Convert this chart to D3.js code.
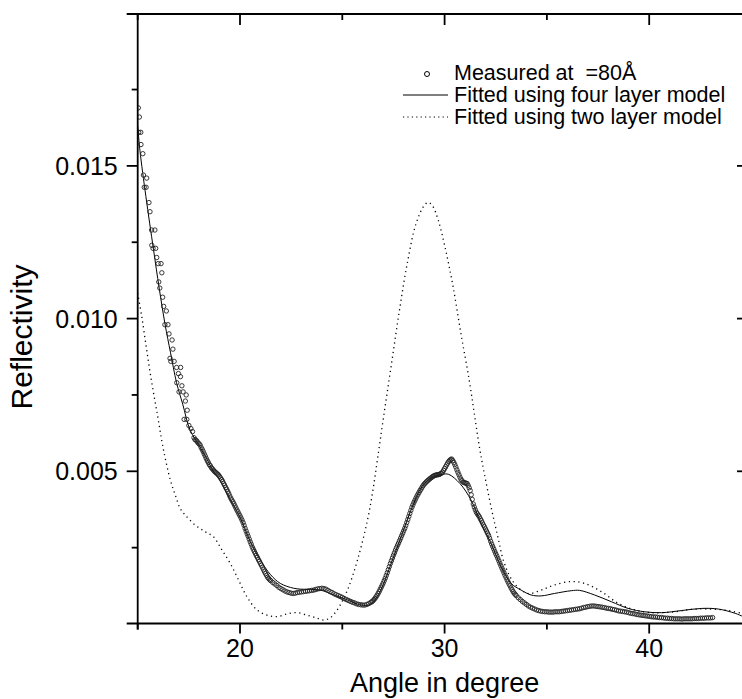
<!DOCTYPE html>
<html><head><meta charset="utf-8">
<script src="https://cdn.jsdelivr.net/npm/d3@7"></script>
<style>body{margin:0;background:#fff}svg{display:block}text{font-family:"Liberation Sans",Arial,sans-serif;fill:#000}</style>
</head><body><svg id="c" width="742" height="699"></svg>
<script>
// ---- data ----
const xMajorTicks = [20, 30, 40];
const xMinorTicks = [15, 25, 35, 45];
const yMajorTicks = [0.005, 0.010, 0.015];
const yMinorTicks = [0.0025, 0.0075, 0.0125, 0.0175];
const legendLabels = ["Measured at  =80\u00C5", "Fitted using four layer model", "Fitted using two layer model"];
const xTitle = "Angle in degree";
const yTitle = "Reflectivity";

// measured reflectivity [angle, R]
const measured = [
[15.03,0.0169],[15.08,0.0166],[15.05,0.0161],[15.15,0.0161],[15.16,0.0157],[15.25,0.0154],[15.28,0.0147],[15.44,0.0146],[15.32,0.0143],[15.41,0.0143],
[15.55,0.0138],[15.6,0.0135],[15.68,0.0129],[15.84,0.0129],[15.69,0.0124],[15.75,0.0123],[15.88,0.0123],[15.93,0.0120],[16.0,0.0118],[16.14,0.0118],
[16.18,0.0115],[16.03,0.0112],[16.08,0.0110],[16.22,0.0107],[16.27,0.0104],[16.4,0.01025],[16.33,0.0098],[16.48,0.0098],[16.53,0.0095],[16.68,0.0093],
[16.72,0.0090],[16.58,0.0087],[16.62,0.0086],[16.78,0.0086],[16.9,0.0084],[17.1,0.0084],[16.99,0.0082],[17.09,0.0081],[16.91,0.0079],[17.02,0.0076],
[17.22,0.0076],[17.16,0.0078],[17.37,0.0075],[17.33,0.0073],[17.42,0.0070],[17.27,0.0067],[17.4,0.0067],[17.5,0.0065],[17.6,0.0064],[17.68,0.0063],
[17.75,0.00610],[17.80,0.00604],[17.85,0.00602],[17.90,0.00598],[17.95,0.00593],[18.00,0.00590],[18.05,0.00586],[18.10,0.00578],[18.15,0.00572],[18.20,0.00565],
[18.25,0.00557],[18.30,0.00550],[18.35,0.00542],[18.40,0.00535],[18.45,0.00529],[18.50,0.00522],[18.55,0.00518],[18.60,0.00512],[18.65,0.00508],[18.70,0.00504],
[18.75,0.00500],[18.80,0.00497],[18.85,0.00494],[18.90,0.00491],[18.95,0.00488],[19.00,0.00483],[19.05,0.00478],[19.10,0.00473],[19.15,0.00467],[19.20,0.00460],
[19.25,0.00454],[19.30,0.00447],[19.35,0.00441],[19.40,0.00434],[19.45,0.00427],[19.50,0.00419],[19.55,0.00412],[19.60,0.00406],[19.65,0.00400],[19.70,0.00394],
[19.75,0.00387],[19.80,0.00380],[19.85,0.00373],[19.90,0.00367],[19.95,0.00360],[20.00,0.00354],[20.05,0.00347],[20.10,0.00340],[20.15,0.00332],[20.20,0.00323],
[20.25,0.00313],[20.30,0.00304],[20.35,0.00295],[20.40,0.00287],[20.45,0.00278],[20.50,0.00269],[20.55,0.00261],[20.60,0.00252],[20.65,0.00245],[20.70,0.00238],
[20.75,0.00231],[20.80,0.00224],[20.85,0.00218],[20.90,0.00211],[20.95,0.00205],[21.00,0.00198],[21.05,0.00192],[21.10,0.00185],[21.15,0.00178],[21.20,0.00171],
[21.25,0.00165],[21.30,0.00159],[21.35,0.00153],[21.40,0.00149],[21.45,0.00145],
[21.50,0.00142],[21.60,0.00136],[21.70,0.00131],[21.80,0.00126],[21.90,0.0012],[22.00,0.00116],[22.10,0.00112],[22.20,0.00108],[22.30,0.00105],[22.40,0.00103],
[22.50,0.00101],[22.60,0.001],[22.70,0.00101],[22.80,0.00103],[22.90,0.00104],[23.00,0.00105],[23.10,0.00106],[23.20,0.00107],[23.30,0.00108],[23.40,0.00109],
[23.50,0.0011],[23.60,0.00111],[23.70,0.00113],[23.80,0.00115],[23.90,0.00116],[24.00,0.00117],[24.10,0.00116],[24.20,0.00114],[24.30,0.0011],[24.40,0.00106],
[24.50,0.00103],[24.60,0.00099],[24.70,0.00096],[24.80,0.00093],[24.90,0.0009],[25.00,0.00087],[25.10,0.00083],[25.20,0.0008],[25.30,0.00077],[25.40,0.00074],
[25.50,0.00071],[25.60,0.00069],[25.70,0.00066],[25.80,0.00064],[25.90,0.00063],[26.00,0.00062],[26.10,0.00062],[26.20,0.00064],[26.30,0.00067],[26.40,0.00071],
[26.45,0.00073],[26.50,0.00076],[26.55,0.0008],[26.60,0.00084],[26.65,0.00089],[26.70,0.00094],[26.75,0.001],[26.80,0.00106],[26.85,0.00113],[26.90,0.0012],
[26.95,0.00127],[27.00,0.00134],[27.05,0.00142],[27.10,0.0015],[27.15,0.00159],[27.20,0.00168],[27.25,0.00178],[27.30,0.00188],[27.35,0.00198],[27.40,0.00207],
[27.45,0.00216],[27.50,0.00225],[27.55,0.00233],[27.60,0.00242],[27.65,0.0025],[27.70,0.00258],[27.75,0.00265],[27.80,0.00273],[27.85,0.00281],[27.90,0.00289],
[27.95,0.00297],[28.00,0.00305],[28.05,0.00313],[28.10,0.00322],[28.15,0.00332],[28.20,0.00342],[28.25,0.00352],[28.30,0.00362],[28.35,0.00372],[28.40,0.00382],
[28.45,0.0039],[28.50,0.00398],[28.55,0.00405],[28.60,0.00412],[28.65,0.00419],[28.70,0.00425],[28.75,0.00431],[28.80,0.00437],[28.85,0.00442],[28.90,0.00448],
[28.95,0.00453],[29.00,0.00458],[29.05,0.00461],[29.10,0.00465],[29.15,0.00468],[29.20,0.00471],[29.25,0.00474],[29.30,0.00477],[29.35,0.00479],[29.40,0.00482],
[29.45,0.00484],[29.50,0.00486],[29.55,0.00487],[29.60,0.00488],[29.65,0.00489],[29.70,0.00489],[29.75,0.0049],[29.80,0.00492],[29.85,0.00494],[29.90,0.00497],
[29.95,0.00503],[30.00,0.00509],[30.05,0.00515],[30.10,0.00521],[30.15,0.00527],[30.20,0.00532],[30.25,0.00536],[30.30,0.00539],[30.35,0.0054],[30.40,0.00535],
[30.45,0.00529],[30.50,0.00522],[30.55,0.00514],[30.60,0.00505],[30.65,0.00497],[30.70,0.00489],[30.75,0.00481],[30.80,0.00474],[30.85,0.00469],[30.90,0.00465],
[30.95,0.00463],[31.00,0.00462],[31.05,0.00461],[31.10,0.0046],[31.15,0.00454],[31.20,0.00446],[31.25,0.00437],[31.30,0.00423],[31.35,0.00408],[31.40,0.00393],
[31.45,0.00383],[31.50,0.00374],[31.55,0.00366],[31.60,0.00361],[31.65,0.00356],[31.70,0.00351],[31.75,0.00344],[31.80,0.00338],[31.85,0.00331],[31.90,0.00324],
[31.95,0.00318],[32.00,0.00311],[32.05,0.00304],[32.10,0.00297],[32.15,0.0029],[32.20,0.00281],[32.25,0.00271],[32.30,0.00262],[32.35,0.00254],[32.40,0.00246],
[32.45,0.00238],[32.50,0.0023],[32.55,0.00223],[32.60,0.00215],[32.65,0.00207],[32.70,0.00199],[32.75,0.00191],[32.80,0.00183],[32.85,0.00176],[32.90,0.00168],
[32.95,0.0016],[33.00,0.00153],[33.05,0.00145],[33.10,0.00138],[33.15,0.00131],[33.20,0.00125],[33.25,0.00118],[33.30,0.00112],[33.35,0.00106],[33.40,0.00101],
[33.45,0.00097],
[33.50,0.00093],[33.60,0.00086],[33.70,0.0008],[33.80,0.00074],[33.90,0.00069],[34.00,0.00064],[34.10,0.00059],[34.20,0.00055],[34.30,0.00052],[34.40,0.00049],
[34.50,0.00046],[34.60,0.00044],[34.70,0.00042],[34.80,0.00041],[34.90,0.0004],[35.00,0.0004],[35.10,0.00039],[35.20,0.00039],[35.30,0.00039],[35.40,0.0004],
[35.50,0.0004],[35.60,0.0004],[35.70,0.00041],[35.80,0.00042],[35.90,0.00043],[36.00,0.00044],[36.10,0.00045],[36.20,0.00046],[36.30,0.00047],[36.40,0.00048],
[36.50,0.00049],[36.60,0.0005],[36.70,0.00052],[36.80,0.00054],[36.90,0.00055],[37.00,0.00057],[37.10,0.00058],[37.20,0.00059],[37.30,0.00059],[37.40,0.00058],
[37.50,0.00057],[37.60,0.00056],[37.70,0.00055],[37.80,0.00054],[37.90,0.00052],[38.00,0.00051],[38.10,0.0005],[38.20,0.00048],[38.30,0.00047],[38.40,0.00045],
[38.50,0.00043],[38.60,0.00042],[38.70,0.00041],[38.80,0.0004],[38.90,0.00039],[39.00,0.00037],[39.10,0.00035],[39.20,0.00034],[39.30,0.00033],[39.40,0.00031],
[39.50,0.0003],[39.60,0.00029],[39.70,0.00028],[39.80,0.00027],[39.90,0.00026],[40.00,0.00025],[40.10,0.00024],[40.20,0.00023],[40.30,0.00023],[40.40,0.00022],
[40.50,0.00021],[40.60,0.00021],[40.70,0.0002],[40.80,0.00019],[40.90,0.00019],[41.00,0.00018],[41.10,0.00018],[41.20,0.00017],[41.30,0.00017],[41.40,0.00017],
[41.50,0.00017],[41.60,0.00016],[41.70,0.00017],[41.80,0.00017],[41.90,0.00017],[42.00,0.00017],[42.10,0.00017],[42.20,0.00018],[42.30,0.00018],[42.40,0.00018],
[42.50,0.00019],[42.60,0.00019],[42.70,0.00019],[42.80,0.0002],[42.90,0.0002],[43.00,0.0002],[43.10,0.00021]
];

const fourLayer = [
[15.0,0.0163],[15.11,0.0155],[15.4,0.0140],[15.77,0.01227],[16.05,0.0110],[16.34,0.0098],[16.6,0.0089],[16.9,0.0079],[17.2,0.0072],[17.56,0.00635],
[18.05,0.0058],[18.38,0.0054],[18.7,0.0050],[19.03,0.0047],[19.5,0.0041],[20.0,0.0035],[20.5,0.0027],[21.0,0.00209],[21.5,0.00161],[21.97,0.00133],
[22.63,0.00117],[23.28,0.00113],[23.93,0.00111],[24.59,0.00095],[25.25,0.00079],[25.9,0.00062],[26.39,0.00065],[26.87,0.0011],[27.4,0.0020],[27.9,0.0029],
[28.4,0.0038],[28.9,0.0045],[29.4,0.0048],[29.9,0.0049],[30.2,0.0049],[30.75,0.0046],[31.29,0.00406],[31.78,0.0033],[32.27,0.00264],[32.76,0.00188],
[33.25,0.00133],[33.74,0.00111],[34.23,0.00095],[34.72,0.00092],[35.37,0.001],[36.19,0.00109],[36.6,0.0011],[37.33,0.00095],[38.15,0.00073],[38.97,0.00051],
[39.78,0.0004],[40.6,0.00037],[41.58,0.00044],[42.56,0.00051],[43.38,0.00049],[44.2,0.00035],[44.62,0.00024],[45.0,0.00018]
];

const twoLayer = [
[15.0,0.01083],[15.2,0.01006],[15.44,0.00897],[15.69,0.00789],[15.98,0.00679],[16.23,0.00581],[16.6,0.0047],[16.85,0.0042],[17.07,0.00379],[17.32,0.00357],
[17.81,0.00324],[18.3,0.00302],[18.7,0.00286],[19.12,0.00242],[19.52,0.00199],[19.93,0.00144],[20.34,0.00089],[20.83,0.00046],[21.32,0.00029],[21.81,0.00024],
[22.3,0.00033],[22.79,0.00037],[23.28,0.00029],[23.77,0.00019],[24.1,0.00013],[24.4,0.0002],[24.75,0.00046],[25.25,0.00111],[25.74,0.00209],[26.23,0.0034],
[26.5,0.0044],[26.72,0.0054],[27.0,0.0067],[27.4,0.0085],[27.8,0.0103],[28.2,0.0119],[28.6,0.0131],[29.0,0.0137],[29.2,0.0138],[29.4,0.0137],
[29.7,0.0132],[30.0,0.0124],[30.4,0.0111],[30.8,0.0095],[31.2,0.0080],[31.45,0.0069],[31.7,0.0058],[31.94,0.00493],[32.27,0.00384],[32.6,0.00286],
[32.92,0.00199],[33.41,0.00133],[34.07,0.001],[34.72,0.00111],[35.37,0.00128],[36.19,0.00139],[36.84,0.00133],[37.66,0.00106],[38.48,0.00068],[39.29,0.00046],
[40.11,0.00037],[41.25,0.0004],[42.07,0.00048],[42.89,0.00049],[43.87,0.00044],[44.62,0.00033],[45.0,0.00027]
];

// ---- layout ----
const svg = d3.select("#c");
const x = d3.scaleLinear().domain([15, 45]).range([137.7, 751.5]);
const y = d3.scaleLinear().domain([0, 0.02]).range([624, 13.2]);
const pL = x(15), pR = 748, pT = 14, pB = 623.5;

svg.append("defs").append("clipPath").attr("id","clip")
  .append("rect").attr("x", pL).attr("y", pT).attr("width", pR-pL).attr("height", pB-pT);

const plot = svg.append("g").attr("clip-path","url(#clip)");
const line = d3.line().x(d=>x(d[0])).y(d=>y(d[1])).curve(d3.curveCatmullRom.alpha(0.5));

plot.append("path").datum(twoLayer).attr("d", line).attr("fill","none")
  .attr("stroke","#000").attr("stroke-width",1.3).attr("stroke-dasharray","1.2,3.6");
plot.append("path").datum(fourLayer).attr("d", line).attr("fill","none")
  .attr("stroke","#000").attr("stroke-width",1);
plot.selectAll("circle.m").data(measured).join("circle").attr("class","m")
  .attr("cx",d=>x(d[0])).attr("cy",d=>y(d[1])).attr("r",2.2)
  .attr("fill","none").attr("stroke","#222").attr("stroke-width",0.9);

// ---- axes ----
const ax = svg.append("g").attr("stroke","#000").attr("stroke-width",1.8).attr("fill","none");
ax.append("line").attr("x1",126.7).attr("x2",pR+2).attr("y1",pB).attr("y2",pB);
ax.append("line").attr("x1",126.7).attr("x2",pR+2).attr("y1",pT).attr("y2",pT);
ax.append("line").attr("x1",pL).attr("x2",pL).attr("y1",pT).attr("y2",pB+6);
ax.append("line").attr("x1",pR).attr("x2",pR).attr("y1",pT).attr("y2",pB);

xMajorTicks.forEach(v=>{
  ax.append("line").attr("x1",x(v)).attr("x2",x(v)).attr("y1",pB).attr("y2",pB+10);
  ax.append("line").attr("x1",x(v)).attr("x2",x(v)).attr("y1",pT).attr("y2",pT+11);
});
xMinorTicks.forEach(v=>{
  ax.append("line").attr("x1",x(v)).attr("x2",x(v)).attr("y1",pB).attr("y2",pB+6);
  ax.append("line").attr("x1",x(v)).attr("x2",x(v)).attr("y1",pT).attr("y2",pT+6);
});
yMajorTicks.forEach(v=>{
  ax.append("line").attr("x1",pL-11).attr("x2",pL).attr("y1",y(v)).attr("y2",y(v));
  ax.append("line").attr("x1",pR-11).attr("x2",pR).attr("y1",y(v)).attr("y2",y(v));
});
yMinorTicks.forEach(v=>{
  ax.append("line").attr("x1",pL-6).attr("x2",pL).attr("y1",y(v)).attr("y2",y(v));
  ax.append("line").attr("x1",pR-6).attr("x2",pR).attr("y1",y(v)).attr("y2",y(v));
});

const fmt = d3.format(".3f");
svg.selectAll("text.yt").data(yMajorTicks).join("text").attr("class","yt")
  .attr("x", pL-20).attr("y", d=>y(d)).attr("dy","0.36em").attr("text-anchor","end")
  .attr("font-size",25).text(d=>fmt(d));
svg.selectAll("text.xt").data(xMajorTicks).join("text").attr("class","xt")
  .attr("x", d=>x(d)).attr("y", pB+33).attr("text-anchor","middle")
  .attr("font-size",25).text(d=>d);

svg.append("text").attr("x", x(30)).attr("y", 692).attr("text-anchor","middle")
  .attr("font-size",27).text(xTitle);
svg.append("text").attr("transform",`translate(32,337) rotate(-90)`)
  .attr("text-anchor","middle").attr("font-size",30).text(yTitle);

// ---- legend ----
const lg = svg.append("g");
const lx = 454, ly = [80, 102, 124];
lg.append("circle").attr("cx",427).attr("cy",ly[0]-6).attr("r",2.5).attr("fill","none").attr("stroke","#000").attr("stroke-width",1);
lg.append("line").attr("x1",403).attr("x2",448).attr("y1",ly[1]-7).attr("y2",ly[1]-7).attr("stroke","#000").attr("stroke-width",1);
lg.append("line").attr("x1",403).attr("x2",448).attr("y1",ly[2]-7).attr("y2",ly[2]-7).attr("stroke","#000").attr("stroke-width",1.2).attr("stroke-dasharray","1.2,3.2");
legendLabels.forEach((t,i)=>{
  lg.append("text").attr("x",lx).attr("y",ly[i]).attr("font-size",21.5).style("white-space","pre").text(t);
});
</script></body></html>
